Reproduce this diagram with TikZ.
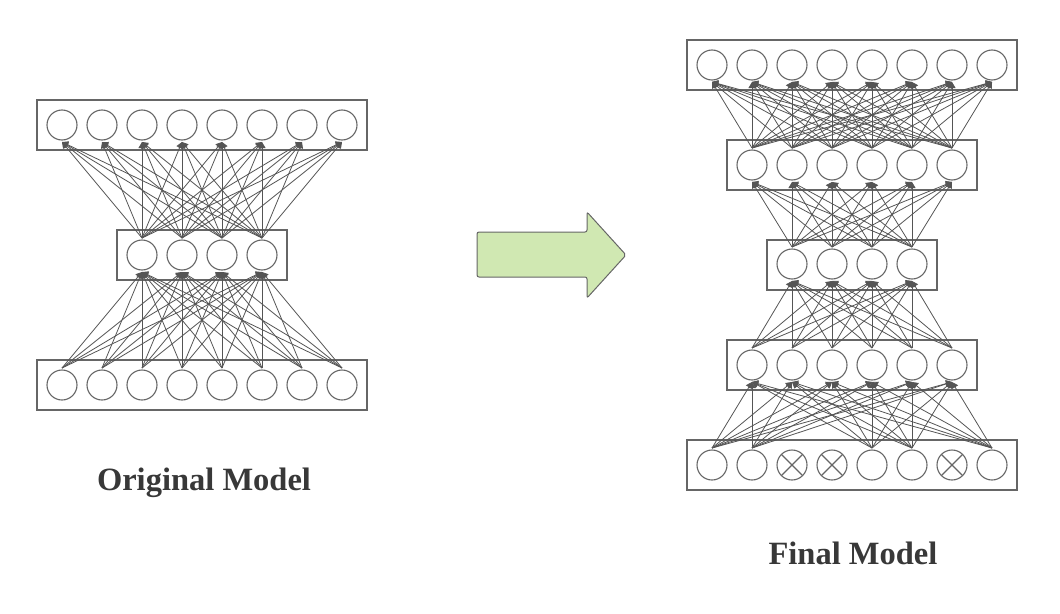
\documentclass[tikz,border=0pt]{standalone}
\usepackage{fontspec}
\setmainfont{Liberation Serif}
\usetikzlibrary{arrows.meta}
\definecolor{linegray}{HTML}{555555}
\definecolor{boxgray}{HTML}{666666}
\definecolor{textgray}{HTML}{383838}
\definecolor{arrowgreen}{HTML}{D0E8B2}
\tikzset{
  neuron/.style={circle, draw=boxgray, line width=1.1pt, fill=white, minimum size=30pt, inner sep=0pt, outer sep=2pt},
  dropped/.style={neuron, path picture={\draw[boxgray, line width=1.1pt]
      (path picture bounding box.north west) -- (path picture bounding box.south east)
      (path picture bounding box.north east) -- (path picture bounding box.south west);}},
  layerbox/.style={draw=boxgray, line width=1.2pt, inner sep=0pt, minimum height=50pt},
  edge/.style={draw=linegray, line width=0.8pt, -{Triangle[length=6pt,width=7pt]}},
  caption/.style={text=textgray, font=\fontsize{32.5}{38}\selectfont\bfseries, anchor=base, inner sep=0pt},
  bigarrow/.style={draw=boxgray, line width=1pt, fill=arrowgreen, rounded corners=2pt}
}
\begin{document}
\begin{tikzpicture}[x=1pt, y=-1pt]
\useasboundingbox (0,0) rectangle (1060,613);

% ---------- Original model ----------
\node[layerbox, minimum width=330pt] (LB1) at (202,385) {};
\node[layerbox, minimum width=170pt] (LB2) at (202,255) {};
\node[layerbox, minimum width=330pt] (LB3) at (202,125) {};
\foreach \i in {1,...,8} {
  \node[neuron] (L1-\i) at ({62+40*(\i-1)},385) {};
  \node[neuron] (L3-\i) at ({62+40*(\i-1)},125) {};
}
\foreach \i in {1,...,4} \node[neuron] (L2-\i) at ({142+40*(\i-1)},255) {};
\foreach \i in {1,...,8} \foreach \j in {1,...,4} \draw[edge] (L1-\i.north) -- (L2-\j.south);
\foreach \i in {1,...,4} \foreach \j in {1,...,8} \draw[edge] (L2-\i.north) -- (L3-\j.south);

% ---------- Arrow ----------
\coordinate (A0) at (477,232);
\draw[bigarrow] (A0) -- (587,232) -- (587,212) -- (626,255) -- (587,298) -- (587,277) -- (477,277) -- cycle;

% ---------- Final model ----------
\node[layerbox, minimum width=330pt] (RB1) at (852,465) {};
\node[layerbox, minimum width=250pt] (RB2) at (852,365) {};
\node[layerbox, minimum width=170pt] (RB3) at (852,265) {};
\node[layerbox, minimum width=250pt] (RB4) at (852,165) {};
\node[layerbox, minimum width=330pt] (RB5) at (852,65) {};
\foreach \i in {1,2,5,6,8} \node[neuron] (R1-\i) at ({712+40*(\i-1)},465) {};
\foreach \i in {3,4,7} \node[dropped] (R1-\i) at ({712+40*(\i-1)},465) {};
\foreach \i in {1,...,6} {
  \node[neuron] (R2-\i) at ({752+40*(\i-1)},365) {};
  \node[neuron] (R4-\i) at ({752+40*(\i-1)},165) {};
}
\foreach \i in {1,...,4} \node[neuron] (R3-\i) at ({792+40*(\i-1)},264) {};
\foreach \i in {1,...,8} \node[neuron] (R5-\i) at ({712+40*(\i-1)},65) {};
\foreach \i in {1,2,5,6,8} \foreach \j in {1,...,6} \draw[edge] (R1-\i.north) -- (R2-\j.south);
\foreach \i in {1,...,6} \foreach \j in {1,...,4} \draw[edge] (R2-\i.north) -- (R3-\j.south);
\foreach \i in {1,...,4} \foreach \j in {1,...,6} \draw[edge] (R3-\i.north) -- (R4-\j.south);
\foreach \i in {1,...,6} \foreach \j in {1,...,8} \draw[edge] (R4-\i.north) -- (R5-\j.south);

% ---------- Captions ----------
\node[caption] (cap1) at (204,490) {Original Model};
\node[caption] (cap2) at (853,564) {Final Model};
\end{tikzpicture}
\end{document}
